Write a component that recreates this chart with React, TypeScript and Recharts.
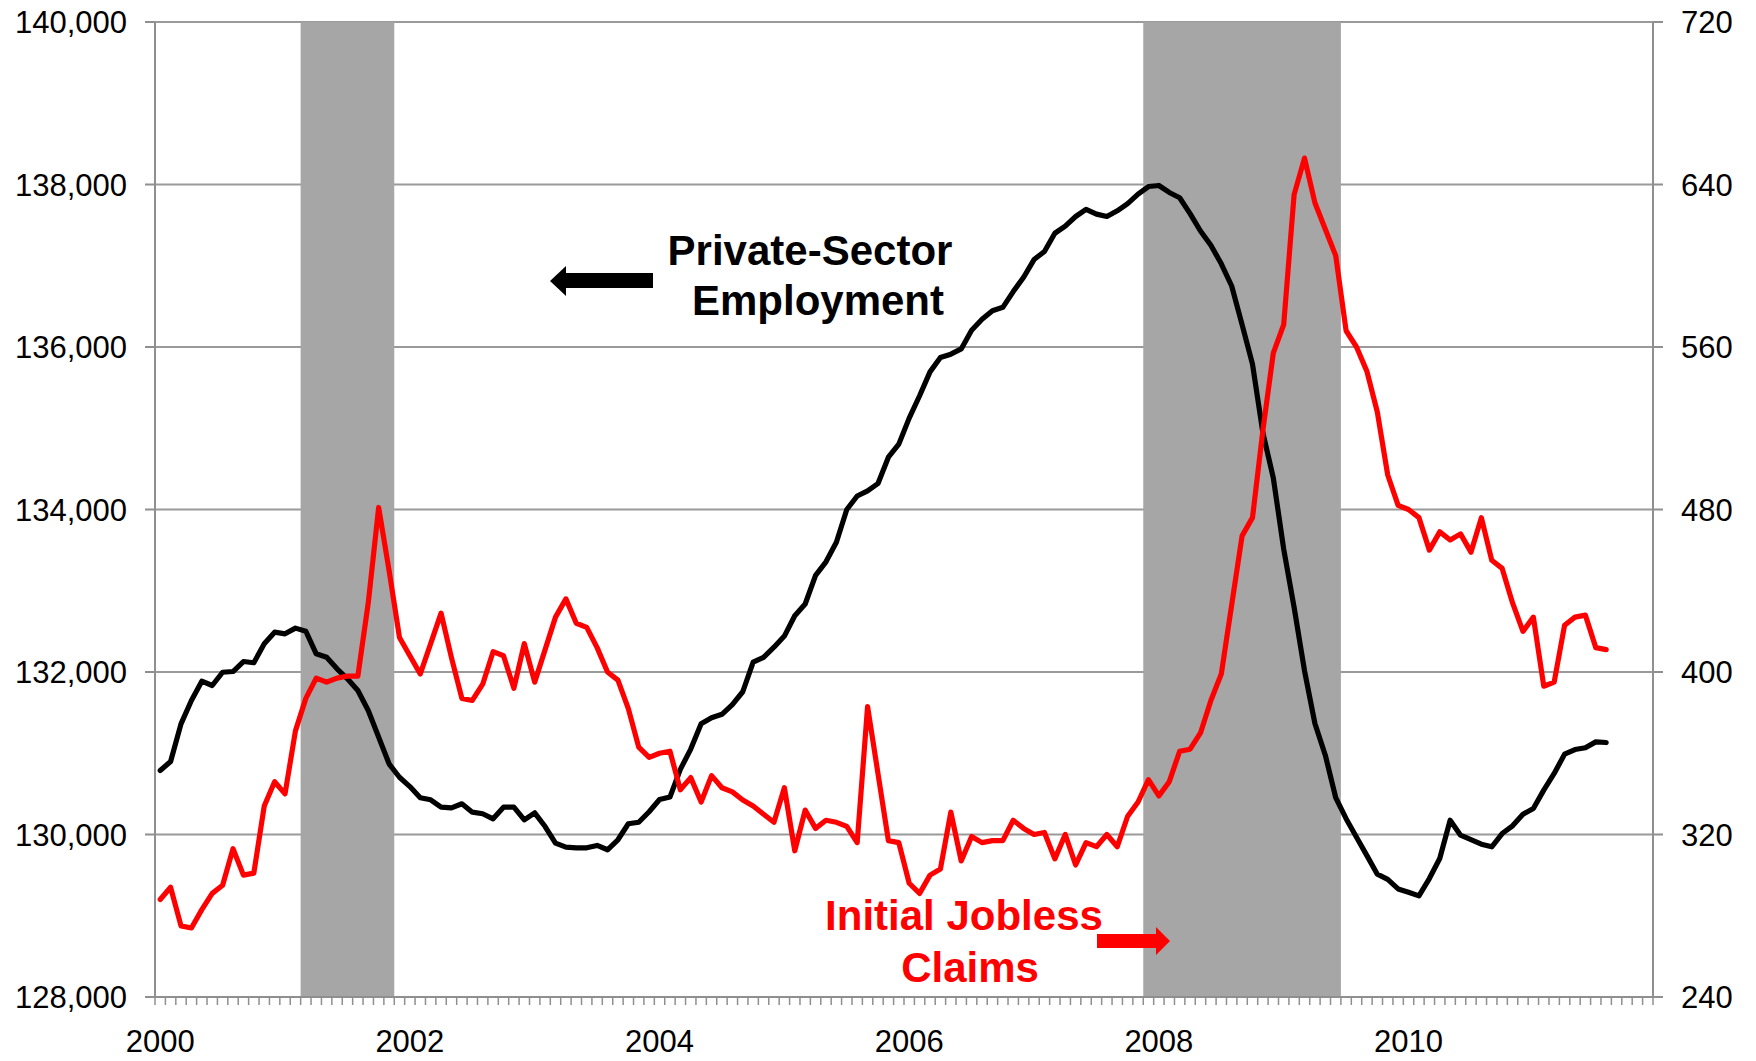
import { CartesianGrid, Line, LineChart, ReferenceArea, XAxis, YAxis } from "recharts";

// monthly, Jan 2000 .. Aug 2011
const startYear = 2000;
const monthsOnAxis = 144;

const yearLabels = ["2000", "2002", "2004", "2006", "2008", "2010"];

// private-sector employment, thousands (left axis)
const employment = [
  130788, 130898, 131362, 131649, 131887, 131834, 131997, 132006, 132129, 132114, 132347, 132490,
  132470, 132540, 132502, 132224, 132182, 132039, 131916, 131772, 131526, 131198, 130870, 130705,
  130590, 130452, 130427, 130336, 130328, 130378, 130275, 130255, 130193, 130336, 130336, 130181,
  130267, 130098, 129893, 129844, 129836, 129836, 129865, 129812, 129935, 130132, 130151, 130280,
  130430, 130461, 130802, 131051, 131362, 131437, 131479, 131599, 131757, 132122, 132181, 132305,
  132442, 132692, 132837, 133190, 133356, 133597, 134000, 134166, 134229, 134320, 134644, 134805,
  135125, 135400, 135694, 135871, 135912, 135976, 136206, 136341, 136447, 136488, 136682, 136859,
  137076, 137176, 137400, 137488, 137606, 137694, 137635, 137606, 137676, 137765, 137882, 137975,
  137988, 137902, 137837, 137642, 137428, 137252, 137024, 136751, 136276, 135789, 134943, 134390,
  133512, 132797, 132016, 131366, 130976, 130455, 130195, 129967, 129740, 129512, 129447, 129330,
  129290, 129245, 129458, 129705, 130176, 129992, 129938, 129881, 129848, 130012, 130107, 130250,
  130320, 130546, 130751, 130989, 131046, 131067, 131140, 131132,
];

// initial jobless claims, thousands (right axis)
const claims = [
  288, 294, 275, 274, 283, 291, 295, 313, 300, 301, 334, 346,
  340, 371, 387, 397, 395, 397, 398, 398, 434, 481, 450, 417,
  408, 399, 414, 429, 407, 387, 386, 394, 410, 408, 392, 414,
  395, 411, 427, 436, 424, 422, 412, 400, 396, 382, 363, 358,
  360, 361, 342, 348, 336, 349, 343, 341, 337, 334, 330, 326,
  343, 312, 332, 323, 327, 326, 324, 316, 383, 350, 317, 316,
  296, 291, 300, 303, 331, 307, 319, 316, 317, 317, 327, 323,
  320, 321, 308, 320, 305, 316, 314, 320, 314, 329, 336, 347,
  339, 346, 361, 362, 370, 386, 399, 433, 467, 476, 519, 557,
  571, 635, 653, 631, 618, 605, 568, 560, 548, 528, 497, 482,
  480, 476, 460, 469, 465, 468, 459, 476, 455, 451, 434, 420,
  427, 393, 395, 423, 427, 428, 412, 411,
];

const leftTicks = [128000, 130000, 132000, 134000, 136000, 138000, 140000];
const rightTicks = [240, 320, 400, 480, 560, 640, 720];

const recessions = [
  { from: "2001-03", to: "2001-11" },
  { from: "2007-12", to: "2009-06" },
];

const W = 1756;
const H = 1061;
const LEFT_W = 155;
const RIGHT_W = 103;
const FONT = "'Liberation Sans', Arial, sans-serif";
const AXIS_GREY = "#8f8f8f";
const HALF_MONTH = (W - LEFT_W - RIGHT_W) / monthsOnAxis / 2;

function monthIndex(ym: string) {
  const [y, m] = ym.split("-").map(Number);
  return (y - startYear) * 12 + (m - 1);
}

const data = employment.map((v, i) => ({ x: i + 0.5, employment: v, claims: claims[i] }));
const monthTicks = Array.from({ length: monthsOnAxis + 1 }, (_, i) => i);

function YearTick(props: any) {
  const { x, y, payload } = props;
  const v = payload.value;
  if (v % 24 !== 0 || !yearLabels[v / 24]) return null;
  return (
    <text x={x + HALF_MONTH} y={y} dy="0.71em" textAnchor="middle" fill="#000" fontSize={31} fontFamily={FONT}>
      {yearLabels[v / 24]}
    </text>
  );
}

export default function App() {
  const tickStyle = { fill: "#000", fontSize: 31, fontFamily: FONT };
  return (
    <div style={{ position: "absolute", left: 0, top: 0, width: W, height: H, background: "#fff" }}>
      <LineChart width={W} height={H} data={data} margin={{ top: 22, right: 0, bottom: 0, left: 0 }}>
        <CartesianGrid yAxisId="left" vertical={false} stroke="#9a9a9a" strokeWidth={2} />
        <XAxis
          dataKey="x"
          type="number"
          domain={[0, monthsOnAxis]}
          ticks={monthTicks}
          interval={0}
          height={64}
          tick={<YearTick />}
          tickSize={8}
          tickMargin={25}
          axisLine={{ stroke: AXIS_GREY, strokeWidth: 2 }}
          tickLine={{ stroke: AXIS_GREY, strokeWidth: 1.5 }}
        />
        <YAxis
          yAxisId="left"
          width={LEFT_W}
          domain={[128000, 140000]}
          ticks={leftTicks}
          interval={0}
          tickFormatter={(v: number) => v.toLocaleString("en-US")}
          tick={tickStyle}
          tickSize={10}
          tickMargin={18}
          axisLine={{ stroke: AXIS_GREY, strokeWidth: 2 }}
          tickLine={{ stroke: AXIS_GREY, strokeWidth: 2 }}
        />
        <YAxis
          yAxisId="right"
          orientation="right"
          width={RIGHT_W}
          domain={[240, 720]}
          ticks={rightTicks}
          interval={0}
          tick={tickStyle}
          tickSize={10}
          tickMargin={18}
          axisLine={{ stroke: AXIS_GREY, strokeWidth: 2 }}
          tickLine={{ stroke: AXIS_GREY, strokeWidth: 2 }}
        />
        {recessions.map((r) => (
          <ReferenceArea
            key={r.from}
            yAxisId="left"
            x1={monthIndex(r.from)}
            x2={monthIndex(r.to) + 1}
            y1={128000}
            y2={140000}
            fill="#a6a6a6"
            fillOpacity={1}
            stroke="none"
          />
        ))}
        <Line
          yAxisId="left"
          type="linear"
          dataKey="employment"
          stroke="#000"
          strokeWidth={5.2}
          strokeLinejoin="round"
          strokeLinecap="round"
          dot={false}
          isAnimationActive={false}
        />
        <Line
          yAxisId="right"
          type="linear"
          dataKey="claims"
          stroke="#ff0000"
          strokeWidth={5.2}
          strokeLinejoin="round"
          strokeLinecap="round"
          dot={false}
          isAnimationActive={false}
        />
      </LineChart>
      <svg
        width={W}
        height={H}
        style={{ position: "absolute", left: 0, top: 0, pointerEvents: "none" }}
        fontFamily={FONT}
        fontWeight="bold"
        fontSize={42}
        textAnchor="middle"
      >
        <text x={810} y={265} fill="#000">Private-Sector</text>
        <text x={818} y={315} fill="#000">Employment</text>
        <polygon points="550,281 566,266 566,273 653,273 653,288 566,288 566,296" fill="#000" />
        <text x={964} y={930} fill="#ff0000">Initial Jobless</text>
        <text x={970} y={982} fill="#ff0000">Claims</text>
        <polygon points="1097,934 1156,934 1156,927 1170,941 1156,955 1156,948 1097,948" fill="#ff0000" />
      </svg>
    </div>
  );
}
